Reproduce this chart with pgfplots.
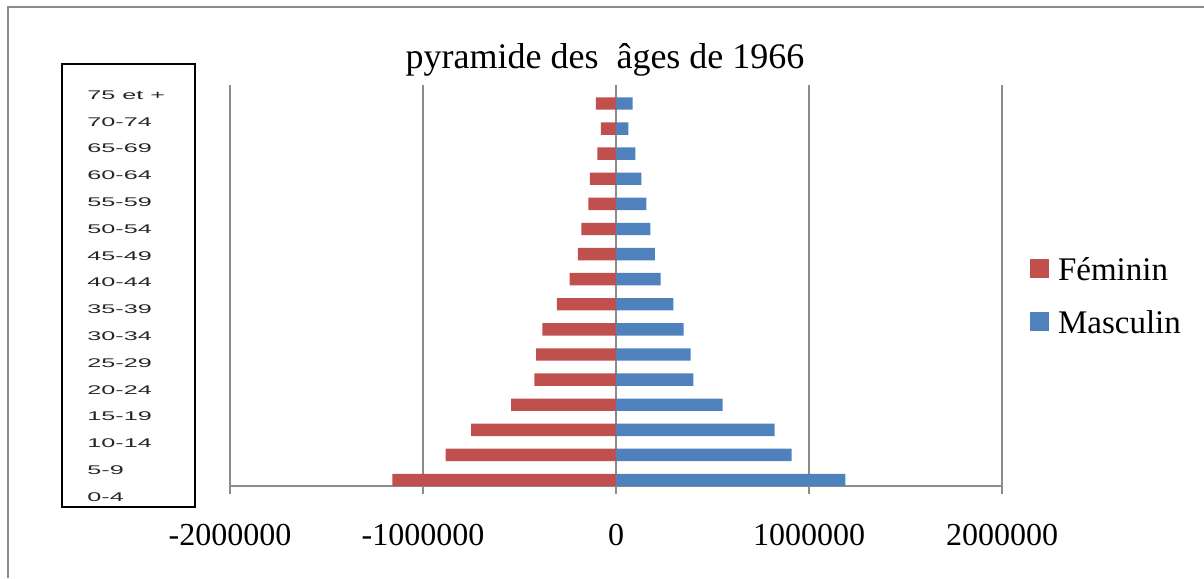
\documentclass[border=0pt]{standalone}
\usepackage{pgfplots}
\pgfplotsset{compat=1.18}
\usepackage{graphicx}
\usepackage{fontspec}
\setmainfont{Liberation Serif}
\newfontfamily\labfont{Liberation Sans}
\definecolor{fem}{HTML}{C0504D}
\definecolor{mas}{HTML}{4F81BD}
\definecolor{gridc}{HTML}{8C8C8C}
\newcommand\lab[1]{\scalebox{2}[1]{\labfont\fontsize{6.3}{7}\selectfont #1}}
\begin{document}
\begin{tikzpicture}[x=1pt,y=1pt]
\useasboundingbox (0,0) rectangle (602,289);
\draw[gridc, line width=1pt] (3.75,0) -- (3.75,285.5) -- (602,285.5);
% label box
\begin{axis}[name=lab, at={(31pt,35.5pt)}, anchor=south west, scale only axis,
  width=66.5pt, height=221.5pt, xmin=0, xmax=1, ymin=-0.373, ymax=16.157,
  xtick=\empty, ytick={0,...,15},
  yticklabels={\lab{0-4},\lab{5-9},\lab{10-14},\lab{15-19},\lab{20-24},\lab{25-29},\lab{30-34},\lab{35-39},\lab{40-44},\lab{45-49},\lab{50-54},\lab{55-59},\lab{60-64},\lab{65-69},\lab{70-74},\lab{75 et +}},
  major tick length=0pt,
  yticklabel style={anchor=west, xshift=12.5pt, inner sep=0pt, text=black!85},
  axis line style={black, line width=1pt}]
\addplot[draw=none] coordinates {(0,0)};
\end{axis}
% main chart
\begin{axis}[at={(115pt,46pt)}, anchor=south west, scale only axis,
  width=386pt, height=200.5pt,
  xmin=-2000000, xmax=2000000, ymin=-0.239, ymax=15.737,
  xbar, bar width=6.2pt,
  axis x line*=bottom, axis y line=none,
  axis line style={gridc, line width=0.7pt},
  xtick={-2000000,-1000000,0,1000000,2000000},
  ytick=\empty,
  xmajorgrids, grid style={gridc, line width=0.7pt},
  tick align=outside, major tick length=4pt,
  tick style={gridc, line width=0.7pt},
  scaled x ticks=false,
  /pgf/number format/.cd, fixed, precision=0, 1000 sep={}, assume math mode=true, /pgfplots/.cd,
  xticklabel style={font=\fontsize{16}{19}\selectfont, anchor=base, yshift=-25.5pt},
  legend style={at={(1.0363,0.5711)}, anchor=north west, draw=none, fill=none,
    inner sep=0pt, outer sep=0pt, font=\fontsize{16.5}{19}\selectfont,
    nodes={inner sep=0pt, text height=12pt, text depth=0pt},
    row sep=14.5pt, column sep=4.5pt, cells={anchor=west}},
  ]
\addplot[fill=fem, draw=none, bar shift=0pt,
  legend image code/.code={\fill[fem] (0pt,-4.5pt) rectangle (9.5pt,5pt);}]
  coordinates {(-1159000,0) (-883000,1) (-751000,2) (-544000,3) (-423000,4) (-414000,5)
  (-382000,6) (-306000,7) (-240000,8) (-197000,9) (-180000,10) (-143000,11)
  (-136000,12) (-97000,13) (-78000,14) (-104000,15)};
\addlegendentry{Féminin}
\addplot[fill=mas, draw=none, bar shift=0pt,
  legend image code/.code={\fill[mas] (0pt,-4.5pt) rectangle (9.5pt,5pt);}]
  coordinates {(1188000,0) (910000,1) (822000,2) (553000,3) (401000,4) (387000,5)
  (351000,6) (297000,7) (231000,8) (202000,9) (178000,10) (157000,11)
  (131000,12) (100000,13) (64000,14) (86000,15)};
\addlegendentry{Masculin}
\end{axis}
\node[anchor=base, font=\fontsize{18}{22}\selectfont] at (302.5,254.5) {pyramide des\ \ âges de 1966};
\end{tikzpicture}
\end{document}
